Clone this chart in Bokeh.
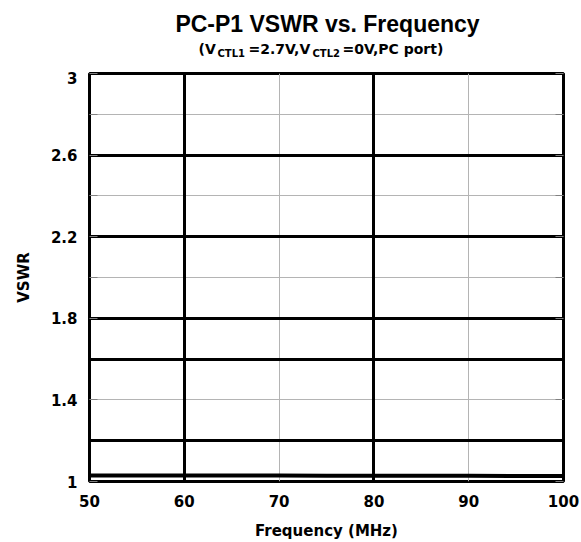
from bokeh.plotting import figure
from bokeh.models import Range1d, FixedTicker, Grid, Label, LinearAxis
from bokeh.layouts import column
from bokeh.embed import file_html
from bokeh.resources import INLINE

# ---- data ----
freq_mhz = [50, 55, 60, 65, 70, 75, 80, 85, 90, 95, 100]
vswr = [1.03, 1.03, 1.03, 1.029, 1.029, 1.028, 1.028, 1.028, 1.028, 1.027, 1.027]

x_ticks = [50, 60, 70, 80, 90, 100]
y_ticks = [1, 1.4, 1.8, 2.2, 2.6, 3]
y_tick_labels = ["1", "1.4", "1.8", "2.2", "2.6", "3"]
y_minor = [2.0, 2.4, 2.8]

x_grid_thick = [60, 80]
x_grid_thin = [70, 90]
y_grid_thick = [1.2, 1.6, 1.8, 2.2, 2.6]
y_grid_thin = [1.4, 2.0, 2.4, 2.8]

title_text = "PC-P1 VSWR vs. Frequency"
x_label = "Frequency (MHz)"
y_label = "VSWR"

# ---- layout ----
W, H = 581, 542
HEAD = 71                      # height of the title strip
FL, FR, FT, FB = 89, 563, 73, 483  # frame edges in page px

# title strip: a bare figure (its frame gets aligned with the chart frame)
head = figure(width=W, height=HEAD, output_backend="svg", toolbar_location=None,
              x_range=Range1d(0, 1), y_range=Range1d(0, 1),
              x_axis_type=None, y_axis_type=None,
              min_border=0, outline_line_color=None,
              background_fill_color="white", border_fill_color="white")
head.xgrid.visible = False
head.ygrid.visible = False

DY = 8  # empirical baseline correction


def lab(text, px, py, size, font="DejaVu Sans", align="left"):
    head.add_layout(Label(x=px - FL, y=HEAD - (py - DY), x_units="screen", y_units="screen",
                          text=text, text_font=font, text_font_style="bold",
                          text_font_size=size, text_align=align,
                          text_baseline="alphabetic", text_color="black"))


lab(title_text, 327, 31, "23px", font="Liberation Sans", align="center")
lab("(V", 198, 56, "14px")
lab("CTL1", 217, 61, "10px")
lab("=2.7V,V", 248, 56, "14px")
lab("CTL2", 312, 61, "10px")
lab("=0V,PC port)", 342, 56, "14px")

# main chart
p = figure(width=W, height=H - HEAD, output_backend="svg", toolbar_location=None,
           x_range=Range1d(50, 100), y_range=Range1d(1, 3),
           min_border_left=FL, min_border_right=W - FR,
           min_border_top=FT - HEAD, min_border_bottom=H - FB,
           background_fill_color="white", border_fill_color="white")

p.outline_line_color = "black"
p.outline_line_width = 3

FONT = "DejaVu Sans"
for ax in (p.xaxis[0], p.yaxis[0]):
    ax.axis_line_color = None
    ax.major_tick_line_color = None
    ax.minor_tick_line_color = None
    ax.major_tick_in = 0
    ax.major_tick_out = 0
    ax.major_label_text_font = FONT
    ax.major_label_text_font_style = "bold"
    ax.major_label_text_font_size = "15px"
    ax.major_label_text_color = "black"
    ax.axis_label_text_font = FONT
    ax.axis_label_text_font_style = "bold"
    ax.axis_label_text_font_size = "15px"
    ax.axis_label_text_color = "black"

p.xaxis[0].ticker = FixedTicker(ticks=x_ticks)
p.xaxis[0].major_label_standoff = 13
p.xaxis[0].axis_label = x_label
p.xaxis[0].axis_label_standoff = 12

yax = p.yaxis[0]
yax.ticker = FixedTicker(ticks=y_ticks, minor_ticks=y_minor)
yax.major_label_overrides = {t: s for t, s in zip(y_ticks, y_tick_labels)}
yax.major_label_standoff = 12
yax.axis_label = y_label
yax.axis_label_standoff = 15
# short grey stubs inside the frame
yax.major_tick_in = 8
yax.major_tick_line_color = "#808080"
yax.minor_tick_in = 8
yax.minor_tick_out = 0
yax.minor_tick_line_color = "#808080"

right = LinearAxis(ticker=FixedTicker(ticks=y_ticks, minor_ticks=y_minor),
                   major_label_overrides={t: "" for t in y_ticks},
                   major_label_standoff=0, axis_line_color=None,
                   major_tick_in=8, major_tick_out=0, major_tick_line_color="#808080",
                   minor_tick_in=8, minor_tick_out=0, minor_tick_line_color="#808080",
                   major_label_text_font_size="1px")
p.add_layout(right, "right")

# grids
p.xgrid[0].ticker = FixedTicker(ticks=x_grid_thin)
p.xgrid[0].grid_line_color = "#b4b4b4"
p.xgrid[0].grid_line_width = 1
p.ygrid[0].ticker = FixedTicker(ticks=y_grid_thin)
p.ygrid[0].grid_line_color = "#b4b4b4"
p.ygrid[0].grid_line_width = 1
p.add_layout(Grid(dimension=0, ticker=FixedTicker(ticks=x_grid_thick),
                  grid_line_color="black", grid_line_width=3))
p.add_layout(Grid(dimension=1, ticker=FixedTicker(ticks=y_grid_thick),
                  grid_line_color="black", grid_line_width=3))

# data
p.line(freq_mhz, vswr, line_color="black", line_width=4)

open("out.html", "w").write(file_html(column(head, p, spacing=0), INLINE))
